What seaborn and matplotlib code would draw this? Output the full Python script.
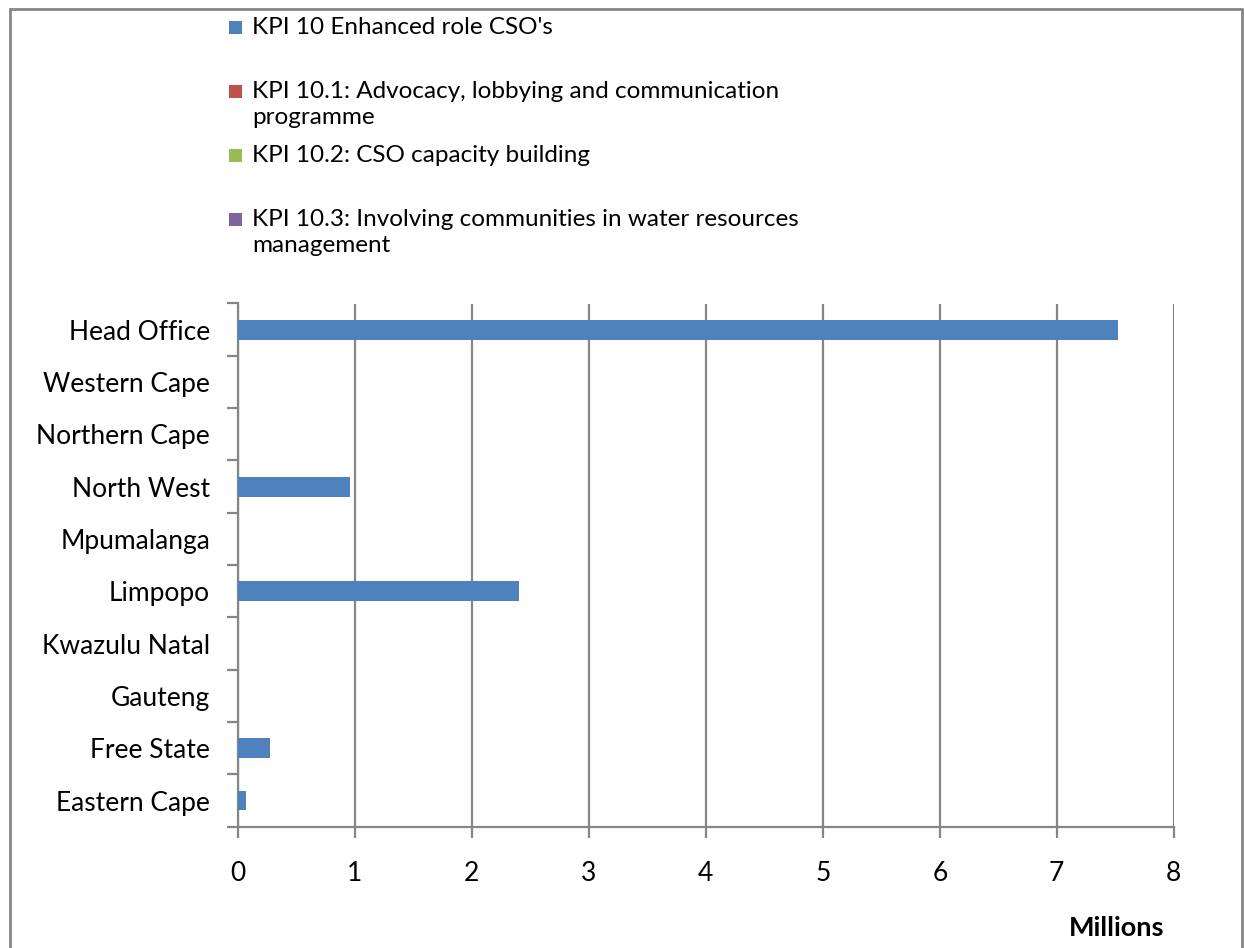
import numpy as np
import pandas as pd
import seaborn as sns
import matplotlib
matplotlib.use("Agg")
import matplotlib.pyplot as plt
from matplotlib.patches import Rectangle
from matplotlib.lines import Line2D

# Budget per region, in millions of rand
regions = ["Head Office", "Western Cape", "Northern Cape", "North West",
           "Mpumalanga", "Limpopo", "Kwazulu Natal", "Gauteng",
           "Free State", "Eastern Cape"]
kpi_10 = [7.52, 0, 0, 0.957, 0, 2.405, 0, 0, 0.271, 0.066]
kpi_10_1 = [0, 0, 0, 0, 0, 0, 0, 0, 0, 0]
kpi_10_2 = [0, 0, 0, 0, 0, 0, 0, 0, 0, 0]
kpi_10_3 = [0, 0, 0, 0, 0, 0, 0, 0, 0, 0]

series_names = [
    "KPI 10 Enhanced role CSO's",
    "KPI 10.1: Advocacy, lobbying and communication\nprogramme",
    "KPI 10.2: CSO capacity building",
    "KPI 10.3: Involving communities in water resources\nmanagement",
]
series_colors = ["#4F81BD", "#C0504D", "#9BBB59", "#8064A2"]
x_ticks = [0, 1, 2, 3, 4, 5, 6, 7, 8]

df = pd.DataFrame({
    "region": regions * 4,
    "series": np.repeat(series_names, len(regions)),
    "value": kpi_10 + kpi_10_1 + kpi_10_2 + kpi_10_3,
})

sns.set_theme(style="white")
plt.rcParams["font.family"] = ["Lato", "DejaVu Sans"]

W, H = 1245, 948
FS_TICK = 19
FS_LEG = 17.5
fig = plt.figure(figsize=(W / 100, H / 100), dpi=100)
ax = fig.add_axes([238 / W, 1 - 826.7 / H, (1173.7 - 238) / W, (826.7 - 303.5) / H])

grid_c = "#868686"
sns.barplot(data=df, y="region", x="value", hue="series", order=regions,
            hue_order=series_names, palette=series_colors, dodge=False,
            saturation=1, width=0.38, linewidth=0, legend=False,
            ax=ax, zorder=3)

ax.set_xlim(0, 8)
ax.set_ylim(len(regions) - 0.5, -0.5)
ax.set_xticks(x_ticks)
ax.set_xticklabels([str(t) for t in x_ticks])
ax.xaxis.grid(True, color=grid_c, linewidth=1.6)
ax.yaxis.grid(False)
ax.set_axisbelow(True)

# category labels centred, tick marks on category boundaries
ax.set_yticks(range(len(regions)))
ax.set_yticks(np.arange(-0.5, len(regions), 1.0), minor=True)
ax.tick_params(axis="y", which="major", length=0, pad=20, labelsize=FS_TICK,
               labelcolor="black")
ax.tick_params(axis="y", which="minor", left=True, length=8, width=1.6,
               color=grid_c, direction="out")
ax.tick_params(axis="x", which="major", bottom=True, length=8, width=1.6,
               color=grid_c, direction="out", pad=17, labelsize=FS_TICK,
               labelcolor="black")
ax.set_ylabel("")
ax.set_xlabel("")

for side in ["top", "right"]:
    ax.spines[side].set_visible(False)
for side in ["left", "bottom"]:
    ax.spines[side].set_color(grid_c)
    ax.spines[side].set_linewidth(1.6)

fig.text(1117 / W, 1 - 928 / H, "Millions", ha="center", va="center",
         fontsize=19.5, fontweight="bold", color="black")

# legend laid out at a fixed pitch, markers aligned with the first text line
for i, (name, col) in enumerate(zip(series_names, series_colors)):
    yc = 27 + 64 * i
    fig.patches.append(Rectangle((228.5 / W, 1 - (yc + 6.5) / H), 13 / W, 13 / H,
                                 transform=fig.transFigure, facecolor=col,
                                 edgecolor="none"))
    for j, line in enumerate(name.split("\n")):
        fig.text(252 / W, 1 - (yc + 26 * j) / H, line, ha="left", va="center",
                 fontsize=FS_LEG, color="black")

# chart frame
for xs, ys in [([10, 10], [9, 960]), ([10, 1242], [9, 9]), ([1242, 1242], [9, 960])]:
    fig.add_artist(Line2D([x / W for x in xs], [1 - y / H for y in ys],
                          transform=fig.transFigure, color=grid_c, linewidth=2))

fig.savefig("out.png", dpi=100, facecolor="white")
